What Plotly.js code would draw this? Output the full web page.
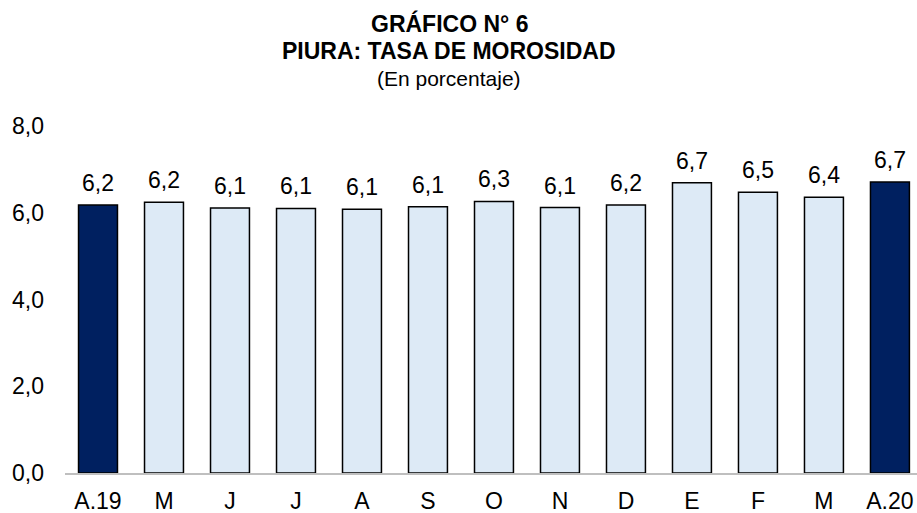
<!DOCTYPE html>
<html>
<head>
<meta charset="utf-8">
<script src="https://cdn.plot.ly/plotly-3.0.1.min.js"></script>
<style>
  html, body { margin: 0; padding: 0; background: #ffffff; }
  #chart { width: 917px; height: 513px; }
</style>
</head>
<body>
<div id="chart"></div>
<script>
// Data
const months = ["A.19", "M", "J", "J", "A", "S", "O", "N", "D", "E", "F", "M", "A.20"];
const morosidad = [6.18, 6.24, 6.11, 6.10, 6.08, 6.14, 6.26, 6.12, 6.18, 6.69, 6.47, 6.36, 6.71];
const yTicks = [0, 2, 4, 6, 8];

const titleLines = ["<b>GRÁFICO N° 6</b>", "<b>PIURA: TASA DE MOROSIDAD</b>", "(En porcentaje)"];

const DARK = "#002060";
const LIGHT = "#DDEAF6";
const FONT = "Liberation Sans, Arial, sans-serif";

const idx = months.map((_, i) => i);
const colors = idx.map(i => (i === 0 || i === months.length - 1) ? DARK : LIGHT);

const trace = {
  type: "bar",
  x: idx,
  y: morosidad,
  width: 0.59,
  marker: { color: colors, line: { color: "#000000", width: 1.5 } },
  hoverinfo: "skip"
};

const annotations = idx.map(i => ({
  x: i, y: morosidad[i], xref: "x", yref: "y",
  text: morosidad[i].toFixed(1).replace(".", ","),
  showarrow: false, yanchor: "middle", yshift: 22,
  font: { family: FONT, size: 23, color: "#000000" }
}));

const titleY = [24, 51, 78];
const plotTop = 126, plotBottom = 473;
titleLines.forEach((t, k) => {
  annotations.push({
    x: (449 - 65) / 852, xref: "paper",
    y: (plotBottom - titleY[k]) / (plotBottom - plotTop), yref: "paper",
    text: t, showarrow: false, xanchor: "center", yanchor: "middle",
    font: { family: FONT, size: k < 2 ? 23 : 21, color: "#000000" }
  });
});

const layout = {
  width: 917, height: 513,
  margin: { l: 65, r: 0, t: plotTop, b: 513 - plotBottom, pad: 0 },
  paper_bgcolor: "#ffffff", plot_bgcolor: "#ffffff",
  separators: ",.",
  showlegend: false,
  font: { family: FONT, size: 23, color: "#000000" },
  xaxis: {
    range: [-0.5, 12.41],
    tickmode: "array", tickvals: idx, ticktext: months,
    showgrid: false, zeroline: false,
    showline: true, linecolor: "#BFBFBF", linewidth: 1.5,
    ticks: "", ticklabelstandoff: 7,
    tickfont: { family: FONT, size: 23, color: "#000000" },
    fixedrange: true
  },
  yaxis: {
    range: [0, 8],
    tickmode: "array", tickvals: yTicks,
    tickformat: ".1f",
    showgrid: false, zeroline: false, showline: false,
    ticks: "", ticklabelstandoff: 20,
    tickfont: { family: FONT, size: 23, color: "#000000" },
    fixedrange: true
  },
  annotations: annotations
};

Plotly.newPlot("chart", [trace], layout, { displayModeBar: false, staticPlot: true });
</script>
</body>
</html>
